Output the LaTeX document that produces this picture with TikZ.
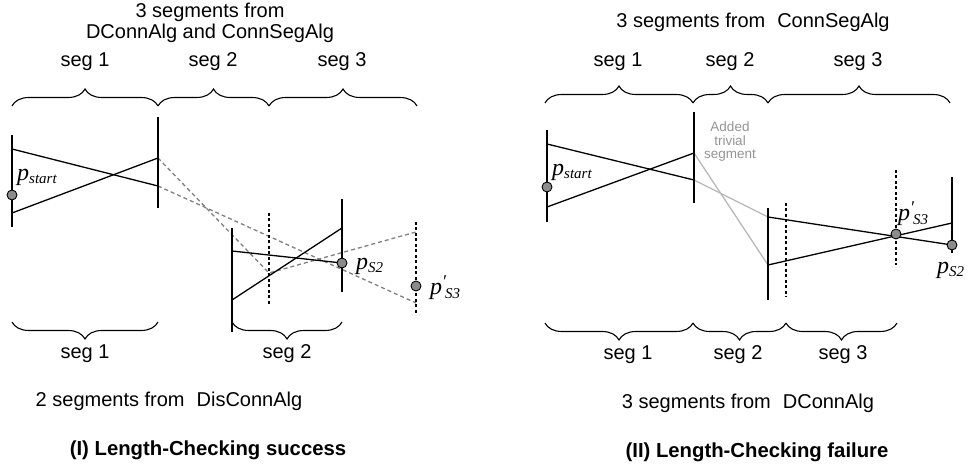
\documentclass[tikz,border=0pt]{standalone}
\usepackage{fontspec}
\setmainfont{Liberation Sans}
\newfontfamily\seriffam{Liberation Serif}
\usetikzlibrary{decorations.pathreplacing}
\newcommand\plab[2]{{\seriffam\itshape\fontsize{24}{24}\selectfont p\raisebox{-0.3ex}{\fontsize{15}{15}\selectfont #2}}}
\newcommand\plabp[1]{{\seriffam\itshape\fontsize{24}{24}\selectfont p\raisebox{0.62ex}{\fontsize{18}{18}\selectfont\char"2032}\kern-1pt\raisebox{-0.3ex}{\fontsize{15}{15}\selectfont #1}}}
\begin{document}
\begin{tikzpicture}[x=1pt,y=-1pt,
  segline/.style={line width=1.3pt, black},
  gdash/.style={draw=black!50, line width=1.3pt, dash pattern=on 4pt off 3pt},
  glight/.style={draw=black!28, line width=1.3pt},
  vdots/.style={line width=2.2pt, dash pattern=on 3pt off 2.5pt},
  dotn/.style={circle, draw=black, fill=black!45, minimum size=10pt, inner sep=0pt, line width=0.9pt},
  bracedec/.style={decorate, decoration={brace, amplitude=17pt}, line width=1.1pt},
  bracedecm/.style={decorate, decoration={brace, amplitude=17pt, mirror}, line width=1.1pt},
  lbl/.style={font=\fontsize{20}{21}\selectfont, inner sep=0pt},
  ttl/.style={font=\fontsize{20.3}{21}\selectfont\bfseries, inner sep=0pt},
  note/.style={font=\fontsize{13.5}{13.5}\selectfont, text=black!42, align=center, inner sep=0pt}
]
\useasboundingbox (0,0) rectangle (970,470);

%% ---------- Left panel ----------
\node[lbl, align=center] (t1) at (210,23) {3 segments from\\DConnAlg and ConnSegAlg};
\node[lbl] (ls1) at (85,62) {seg 1};
\node[lbl] (ls2) at (213,62) {seg 2};
\node[lbl] (ls3) at (342,62) {seg 3};
\draw[bracedec] (12,106) -- (158,106);
\draw[bracedec] (158,106) -- (269,106);
\draw[bracedec] (269,106) -- (417,106);

% verticals
\coordinate (A0) at (12,135); \coordinate (A9) at (12,227);
\coordinate (a1) at (12,149); \coordinate (a2) at (12,213);
\coordinate (B0) at (158,117); \coordinate (B9) at (158,208);
\coordinate (b1) at (158,158); \coordinate (b2) at (158,186);
\coordinate (C0) at (232,228); \coordinate (C9) at (232,332);
\coordinate (c1) at (232,251); \coordinate (c2) at (232,300);
\coordinate (D0) at (342,199); \coordinate (D9) at (342,292);
\coordinate (d1) at (342,228); \coordinate (d2) at (342,263);
\coordinate (E0) at (269,213); \coordinate (E9) at (269,305);
\coordinate (e1) at (269,273);
\coordinate (F0) at (416,222); \coordinate (F9) at (416,313);
\coordinate (f1) at (416,232); \coordinate (f2) at (416,303);

\draw[gdash] (b1) -- (e1) -- (f1);
\draw[gdash] (b2) -- (f2);
\draw[segline] (A0) -- (A9);
\draw[segline] (B0) -- (B9);
\draw[segline] (C0) -- (C9);
\draw[segline] (D0) -- (D9);
\draw[vdots] (E0) -- (E9);
\draw[vdots] (F0) -- (F9);
\draw[segline] (a1) -- (b2);
\draw[segline] (a2) -- (b1);
\draw[segline] (c1) -- (d2);
\draw[segline] (c2) -- (d1);

\node[dotn] (lps) at (12,195) {};
\node[dotn] (lp2) at (d2) {};
\node[dotn] (lp3) at (416,286) {};
\node[anchor=west, inner sep=0pt] (lpsl) at (17,177) {\plab{}{start}};
\node[anchor=west, inner sep=0pt] (lp2l) at (356,266) {\plab{}{S2}};
\node[anchor=west, inner sep=0pt] (lp3l) at (430,288) {\plabp{S3}};

\draw[bracedecm] (12,322) -- (158,322);
\draw[bracedecm] (232,322) -- (342,322);
\node[lbl] (lb1) at (85,354) {seg 1};
\node[lbl] (lb2) at (287,354) {seg 2};
\node[lbl] (lsub) at (169,401) {2 segments from\hspace{0.6em}DisConnAlg};
\node[ttl] (lcap) at (208,450) {(I) Length-Checking success};

%% ---------- Right panel ----------
\node[lbl] (t2) at (753,22) {3 segments from\hspace{0.6em}ConnSegAlg};
\node[lbl] (rs1) at (618,62) {seg 1};
\node[lbl] (rs2) at (730,62) {seg 2};
\node[lbl] (rs3) at (858,62) {seg 3};
\draw[bracedec] (545,103) -- (693,103);
\draw[bracedec] (693,103) -- (768,103);
\draw[bracedec] (768,103) -- (950,103);

\coordinate (G0) at (547,130); \coordinate (G9) at (547,222);
\coordinate (g1) at (547,144); \coordinate (g2) at (547,207);
\coordinate (H0) at (694,112); \coordinate (H9) at (694,203);
\coordinate (h1) at (694,153); \coordinate (h2) at (694,180);
\coordinate (K0) at (768,208); \coordinate (K9) at (768,300);
\coordinate (k1) at (768,217); \coordinate (k2) at (768,265);
\coordinate (L0) at (786,203); \coordinate (L9) at (786,297);
\coordinate (M0) at (896,170); \coordinate (M9) at (896,265);
\coordinate (N0) at (952,177); \coordinate (N9) at (952,253);
\coordinate (n1) at (952,223); \coordinate (n2) at (952,245);

\draw[glight] (h1) -- (k2);
\draw[glight] (h2) -- (k1);
\draw[segline] (G0) -- (G9);
\draw[segline] (H0) -- (H9);
\draw[segline] (K0) -- (K9);
\draw[segline] (N0) -- (N9);
\draw[vdots] (L0) -- (L9);
\draw[vdots] (M0) -- (M9);
\draw[segline] (g1) -- (h2);
\draw[segline] (g2) -- (h1);
\draw[segline] (k1) -- (n2);
\draw[segline] (k2) -- (n1);

\node[note] (added) at (730,142) {Added\\trivial\\segment};

\node[dotn] (rps) at (547,187) {};
\node[dotn] (rp3) at (896,234) {};
\node[dotn] (rp2) at (n2) {};
\node[anchor=west, inner sep=0pt] (rpsl) at (552,172) {\plab{}{start}};
\node[anchor=west, inner sep=0pt] (rp3l) at (898,214) {\plabp{S3}};
\node[anchor=west, inner sep=0pt] (rp2l) at (937,270) {\plab{}{S2}};

\draw[bracedecm] (545,323) -- (693,323);
\draw[bracedecm] (693,323) -- (786,323);
\draw[bracedecm] (786,323) -- (897,323);
\node[lbl] (rb1) at (628,355) {seg 1};
\node[lbl] (rb2) at (738,355) {seg 2};
\node[lbl] (rb3) at (843,355) {seg 3};
\node[lbl] (rsub) at (748,403) {3 segments from\hspace{0.6em}DConnAlg};
\node[ttl] (rcap) at (757,452) {(II) Length-Checking failure};
\end{tikzpicture}
\end{document}
